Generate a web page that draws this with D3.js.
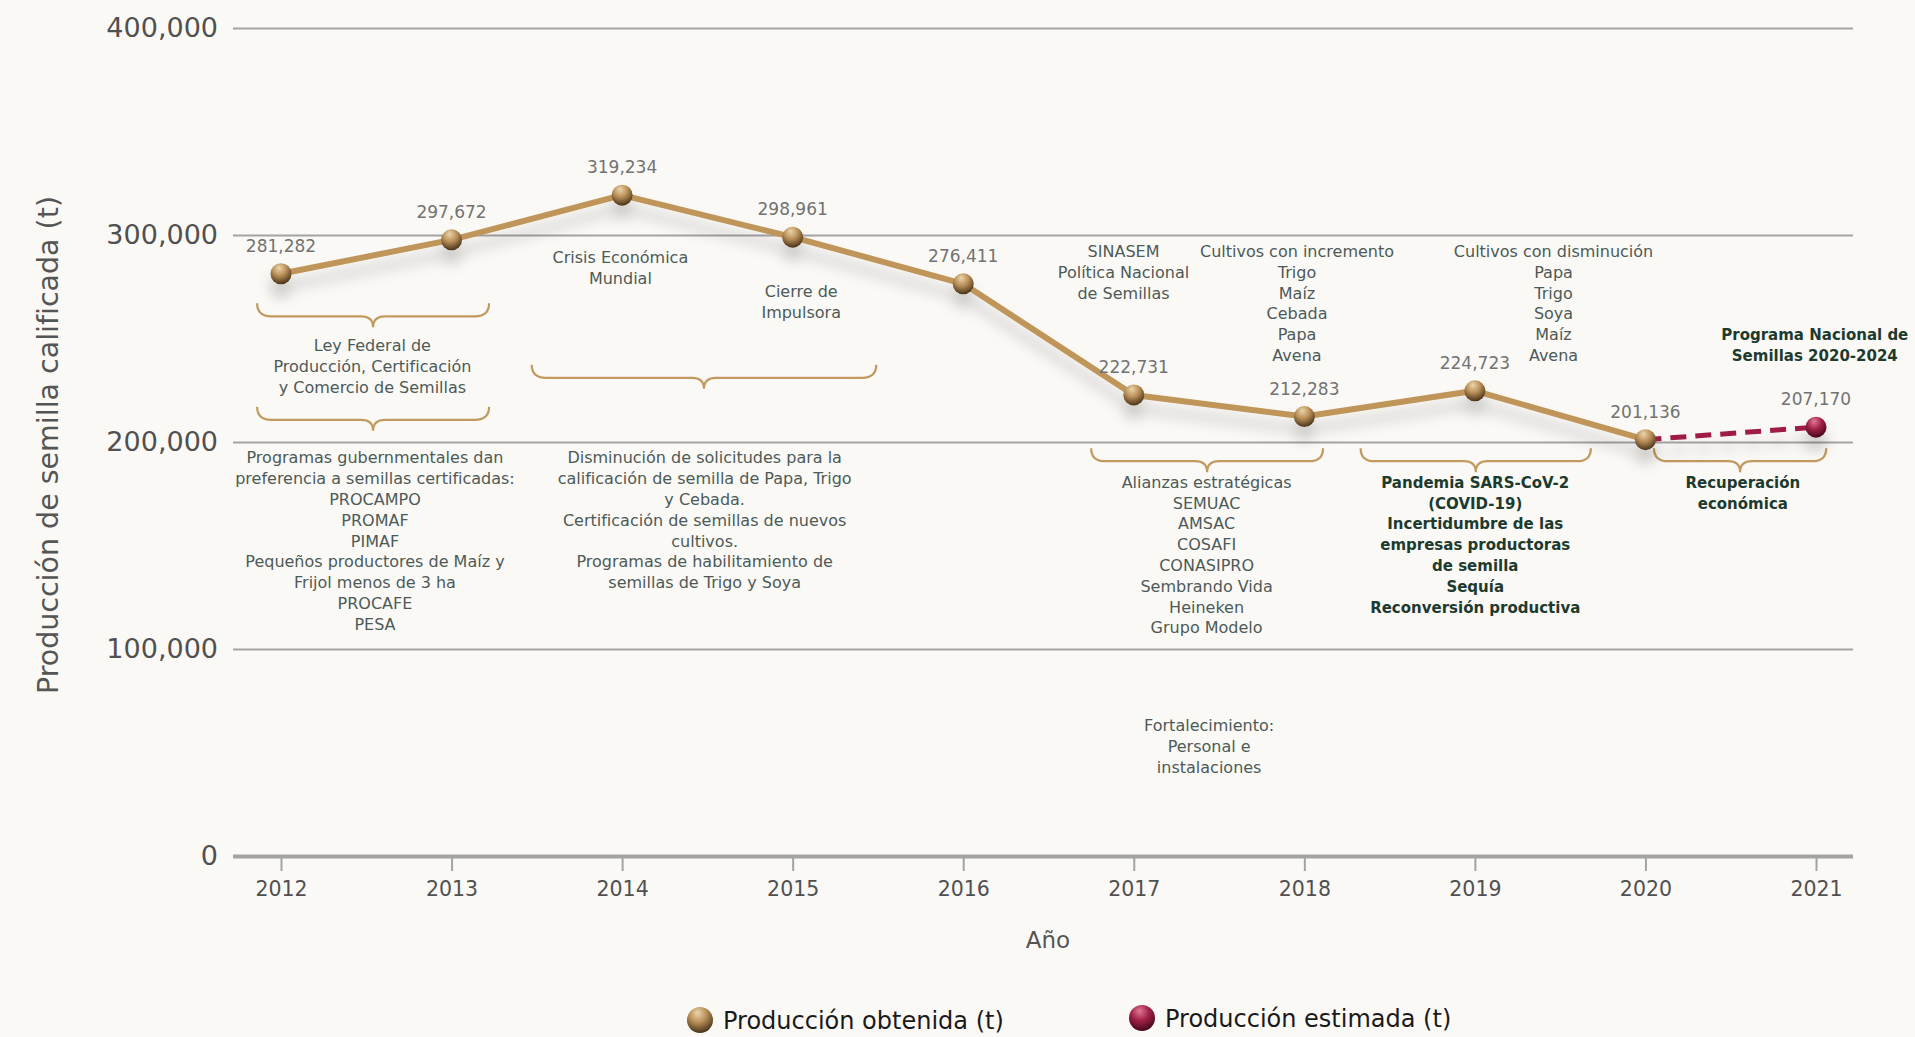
<!DOCTYPE html>
<html lang="es">
<head>
<meta charset="utf-8">
<title>Producción de semilla calificada</title>
<script src="https://d3js.org/d3.v7.min.js"></script>
<style>
  html, body { margin: 0; padding: 0; background: #faf9f6; overflow: hidden; }
  svg { display: block; }
  text { font-family: "DejaVu Sans", sans-serif; }
</style>
</head>
<body>
<div id="chart"></div>
<script>
// ---- data ----
const years = [2012, 2013, 2014, 2015, 2016, 2017, 2018, 2019, 2020, 2021];
const obtainedYears = [2012, 2013, 2014, 2015, 2016, 2017, 2018, 2019, 2020];
const obtainedValues = [281282, 297672, 319234, 298961, 276411, 222731, 212283, 224723, 201136];
const estimatedYears = [2020, 2021];
const estimatedValues = [201136, 207170];
const yTicks = [0, 100000, 200000, 300000, 400000];
const seriesNames = ["Producción obtenida (t)", "Producción estimada (t)"];

// annotation texts
const noteLey = ["Ley Federal de", "Producción, Certificación", "y Comercio de Semillas"];
const noteProgramas = ["Programas gubernmentales dan", "preferencia a semillas certificadas:", "PROCAMPO", "PROMAF", "PIMAF",
  "Pequeños productores de Maíz y", "Frijol menos de 3 ha", "PROCAFE", "PESA"];
const noteDisminucion = ["Disminución de solicitudes para la", "calificación de semilla de Papa, Trigo", "y Cebada.",
  "Certificación de semillas de nuevos", "cultivos.", "Programas de habilitamiento de", "semillas de Trigo y Soya"];
const noteCrisis = ["Crisis Económica", "Mundial"];
const noteCierre = ["Cierre de", "Impulsora"];
const noteSinasem = ["SINASEM", "Política Nacional", "de Semillas"];
const noteIncremento = ["Cultivos con incremento", "Trigo", "Maíz", "Cebada", "Papa", "Avena"];
const noteDisminucionCult = ["Cultivos con disminución", "Papa", "Trigo", "Soya", "Maíz", "Avena"];
const notePrograma = ["Programa Nacional de", "Semillas 2020-2024"];
const noteAlianzas = ["Alianzas estratégicas", "SEMUAC", "AMSAC", "COSAFI", "CONASIPRO", "Sembrando Vida", "Heineken", "Grupo Modelo"];
const notePandemia = ["Pandemia SARS-CoV-2", "(COVID-19)", "Incertidumbre de las", "empresas productoras", "de semilla", "Sequía", "Reconversión productiva"];
const noteRecuperacion = ["Recuperación", "económica"];
const noteFortalecimiento = ["Fortalecimiento:", "Personal e", "instalaciones"];

// ---- layout ----
const W = 1915, H = 1037;
const plotLeft = 233, plotRight = 1853;
const x = d3.scaleLinear().domain([2012, 2021]).range([281, 1816]);
const y = d3.scaleLinear().domain([0, 400000]).range([856, 28]);

const svg = d3.select("#chart").append("svg")
  .attr("width", W).attr("height", H);

svg.append("rect").attr("width", W).attr("height", H).attr("fill", "#faf9f6");

const defs = svg.append("defs");
function ballGradient(id, light, mid, dark) {
  const gr = defs.append("radialGradient").attr("id", id)
    .attr("cx", "45%").attr("cy", "30%").attr("r", "75%").attr("fx", "40%").attr("fy", "22%");
  gr.append("stop").attr("offset", "0%").attr("stop-color", light);
  gr.append("stop").attr("offset", "45%").attr("stop-color", mid);
  gr.append("stop").attr("offset", "100%").attr("stop-color", dark);
}
ballGradient("gold", "#ecd5aa", "#b98f58", "#3a2710");
ballGradient("wine", "#e27b93", "#a3234a", "#3a0414");

const shadow = defs.append("filter").attr("id", "shadow")
  .attr("x", "-10%").attr("y", "-50%").attr("width", "120%").attr("height", "200%");
shadow.append("feDropShadow").attr("dx", 0).attr("dy", 13).attr("stdDeviation", 7)
  .attr("flood-color", "#000").attr("flood-opacity", 0.2);

// y axis + gridlines
svg.append("g")
  .attr("transform", `translate(${plotLeft},0)`)
  .call(d3.axisLeft(y).tickValues(yTicks).tickFormat(d3.format(","))
    .tickSize(-(plotRight - plotLeft)).tickPadding(15))
  .call(g => g.select(".domain").remove())
  .call(g => g.selectAll(".tick line")
    .attr("stroke", "#a3a3a3").attr("stroke-width", d => d === 0 ? 4 : 2))
  .call(g => g.selectAll(".tick text")
    .attr("fill", "#505050").attr("font-size", 27));

// x axis
svg.append("g")
  .attr("transform", `translate(0,${y(0)})`)
  .call(d3.axisBottom(x).tickValues(years).tickFormat(d3.format("d"))
    .tickSize(15).tickPadding(10))
  .call(g => g.select(".domain").remove())
  .call(g => g.selectAll(".tick line").attr("stroke", "#a3a3a3").attr("stroke-width", 2))
  .call(g => g.selectAll(".tick text").attr("fill", "#505050").attr("font-size", 20.5));

svg.append("text")
  .attr("x", 1048).attr("y", 948)
  .attr("text-anchor", "middle").attr("font-size", 23).attr("fill", "#555")
  .text("Año");

svg.append("text")
  .attr("transform", "translate(48,445) rotate(-90)")
  .attr("text-anchor", "middle").attr("dominant-baseline", "central")
  .attr("font-size", 28).attr("fill", "#555")
  .attr("textLength", 498).attr("lengthAdjust", "spacingAndGlyphs")
  .text("Producción de semilla calificada (t)");

// braces (years for x, value for top y)
const braces = [
  [2011.86, 2013.22, 267000],
  [2011.86, 2013.22, 217000],
  [2013.47, 2015.49, 237300],
  [2016.75, 2018.11, 197000],
  [2018.33, 2019.68, 197000],
  [2020.05, 2021.06, 197000]
];
function bracePath(x0, x1, y0) {
  const xm = (x0 + x1) / 2, h1 = 13, h = 24, r = 14, r2 = 12;
  return `M${x0},${y0} Q${x0},${y0 + h1} ${x0 + r},${y0 + h1} L${xm - r2},${y0 + h1}` +
    ` Q${xm},${y0 + h1} ${xm},${y0 + h} Q${xm},${y0 + h1} ${xm + r2},${y0 + h1}` +
    ` L${x1 - r},${y0 + h1} Q${x1},${y0 + h1} ${x1},${y0}`;
}
svg.append("g").selectAll("path").data(braces).join("path")
  .attr("d", d => bracePath(x(d[0]), x(d[1]), y(d[2])))
  .attr("fill", "none").attr("stroke", "#c29a60").attr("stroke-width", 2.2);

// annotation text blocks: [lines, year (center), value of first line center, bold]
const notes = [
  [noteLey, 2012.536, 246600, false],
  [noteProgramas, 2012.551, 192300, false],
  [noteDisminucion, 2014.484, 192300, false],
  [noteCrisis, 2013.99, 289000, false],
  [noteCierre, 2015.05, 272500, false],
  [noteSinasem, 2016.94, 292000, false],
  [noteIncremento, 2017.957, 292000, false],
  [noteDisminucionCult, 2019.461, 292000, false],
  [notePrograma, 2020.993, 251900, true],
  [noteAlianzas, 2017.427, 180500, false],
  [notePandemia, 2019.002, 180500, true],
  [noteRecuperacion, 2020.571, 180500, true],
  [noteFortalecimiento, 2017.442, 63000, false]
];
const lineStep = 20.8;
const noteG = svg.append("g");
notes.forEach(([lines, yr, val, bold]) => {
  const t = noteG.append("text")
    .attr("text-anchor", "middle")
    .attr("font-size", bold ? 15 : 16)
    .attr("font-weight", bold ? "bold" : "normal")
    .attr("fill", bold ? "#1d3a2f" : "#4d5a56");
  lines.forEach((ln, i) => {
    t.append("tspan").attr("x", x(yr)).attr("y", y(val) + i * lineStep + 5.5).text(ln);
  });
});

// series
const obtained = obtainedYears.map((yr, i) => ({ year: yr, value: obtainedValues[i] }));
const estimated = estimatedYears.map((yr, i) => ({ year: yr, value: estimatedValues[i] }));
const line = d3.line().x(d => x(d.year)).y(d => y(d.value));

const seriesG = svg.append("g").attr("filter", "url(#shadow)");
seriesG.append("path").datum(estimated)
  .attr("d", line).attr("fill", "none")
  .attr("stroke", "#9e1f46").attr("stroke-width", 5).attr("stroke-dasharray", "16 9");
seriesG.append("path").datum(obtained)
  .attr("d", line).attr("fill", "none")
  .attr("stroke", "#c0955a").attr("stroke-width", 6).attr("stroke-linejoin", "round");
seriesG.selectAll("circle.est").data(estimated.slice(1)).join("circle")
  .attr("class", "est")
  .attr("cx", d => x(d.year)).attr("cy", d => y(d.value)).attr("r", 10.5)
  .attr("fill", "url(#wine)");
seriesG.selectAll("circle.obt").data(obtained).join("circle")
  .attr("class", "obt")
  .attr("cx", d => x(d.year)).attr("cy", d => y(d.value)).attr("r", 10.5)
  .attr("fill", "url(#gold)");

// value labels
svg.append("g").selectAll("text").data(obtained.concat(estimated.slice(1))).join("text")
  .attr("x", d => x(d.year)).attr("y", d => y(d.value) - 22)
  .attr("text-anchor", "middle").attr("font-size", 17).attr("fill", "#727272")
  .text(d => d3.format(",")(d.value));

// legend
const legendX = [700, 1142];
const legendG = svg.append("g").selectAll("g").data(seriesNames).join("g")
  .attr("transform", (d, i) => `translate(${legendX[i]},${i === 0 ? 1020 : 1018})`);
legendG.append("circle").attr("r", 13)
  .attr("fill", (d, i) => i === 0 ? "url(#gold)" : "url(#wine)");
legendG.append("text").attr("x", 23).attr("y", 9)
  .attr("font-size", 24).attr("fill", "#1a1a1a")
  .text(d => d);
</script>
</body>
</html>
